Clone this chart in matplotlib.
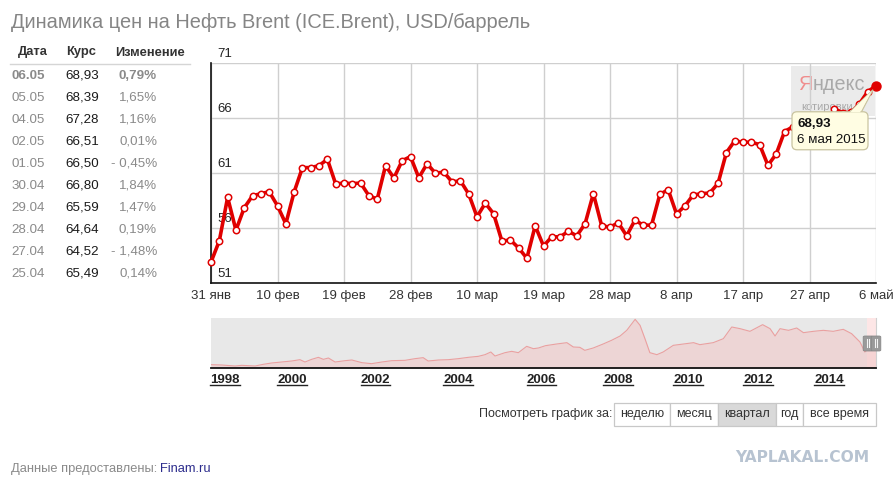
import numpy as np
import matplotlib
matplotlib.use("Agg")
import matplotlib.pyplot as plt
from matplotlib.patches import Rectangle, FancyBboxPatch, Polygon
from matplotlib.lines import Line2D
from matplotlib.transforms import IdentityTransform

plt.rcParams["font.family"] = ["Liberation Sans", "DejaVu Sans"]

# daily Brent quotes, 31 Jan - 6 May 2015
prices = [52.90, 54.83, 58.78, 55.80, 57.84, 58.93, 59.12, 59.30, 58.02, 56.38,
          59.27, 61.49, 61.49, 61.67, 62.25, 60.00, 60.09, 60.03, 60.09, 58.93,
          58.63, 61.67, 60.54, 62.12, 62.49, 60.57, 61.85, 60.97, 61.09, 60.18,
          60.30, 59.09, 57.02, 58.26, 57.29, 54.80, 54.92, 54.19, 53.25, 56.20,
          54.37, 55.20, 55.20, 55.70, 55.29, 56.38, 59.12, 56.20, 56.08, 56.47,
          55.29, 56.71, 56.26, 56.26, 59.06, 59.48, 57.29, 57.99, 59.00, 59.12,
          59.18, 60.06, 62.85, 63.92, 63.80, 63.80, 63.58, 61.70, 62.73, 64.77,
          65.20, 65.49, 64.52, 64.64, 65.59, 66.80, 66.50, 66.51, 67.28, 68.39,
          68.93]
date_labels = ["31 янв", "10 фев", "19 фев", "28 фев", "10 мар", "19 мар",
               "28 мар", "8 апр", "17 апр", "27 апр", "6 май"]
label_step = 8
y_ticks = [51, 56, 61, 66, 71]
last_date = "6 мая 2015"

table_dates = ["06.05", "05.05", "04.05", "02.05", "01.05", "30.04", "29.04", "28.04", "27.04", "25.04"]
table_rates = ["68,93", "68,39", "67,28", "66,51", "66,50", "66,80", "65,59", "64,64", "64,52", "65,49"]
table_changes = ["0,79%", "1,65%", "1,16%", "0,01%", "- 0,45%", "1,84%", "1,47%", "0,19%", "- 1,48%", "0,14%"]

# long history for the navigator strip
nav_years = [1997.58, 1997.90, 1998.30, 1998.50, 1998.90, 1999.14, 1999.39, 1999.69, 1999.99,
             2000.19, 2000.31, 2000.47, 2000.63, 2000.75, 2000.87, 2001.03, 2001.27, 2001.43,
             2001.67, 2001.90, 2002.15, 2002.39, 2002.71, 2002.95, 2003.15, 2003.27, 2003.52,
             2003.76, 2004.00, 2004.24, 2004.48, 2004.64, 2004.78, 2004.88, 2005.12, 2005.28,
             2005.44, 2005.64, 2005.80, 2005.92, 2006.10, 2006.39, 2006.66, 2006.83, 2007.00,
             2007.13, 2007.35, 2007.61, 2007.83, 2008.06, 2008.25, 2008.49, 2008.63, 2008.77,
             2008.91, 2009.11, 2009.29, 2009.58, 2009.87, 2010.16, 2010.34, 2010.72, 2011.01,
             2011.25, 2011.49, 2011.77, 2012.13, 2012.34, 2012.48, 2012.62, 2012.86, 2013.09,
             2013.28, 2013.56, 2013.84, 2014.12, 2014.41, 2014.65, 2014.89, 2015.03, 2015.12,
             2015.35]
nav_prices = [10, 9, 6, 8, 6, 11, 15, 18, 21,
              25, 18, 26, 32, 26, 30, 18, 22, 24,
              16, 13, 18, 22, 23, 28, 31, 21, 24,
              25, 28, 32, 35, 40, 48, 36, 46, 50,
              46, 65, 58, 60, 67, 72, 76, 63, 62,
              53, 60, 72, 83, 96, 113, 146, 128, 88,
              46, 40, 48, 68, 72, 76, 70, 76, 88,
              123, 118, 110, 130, 118, 96, 118, 113, 120,
              106, 110, 113, 110, 116, 103, 78, 48, 56,
              66]
nav_label_years = [1998, 2000, 2002, 2004, 2006, 2008, 2010, 2012, 2014]
selection = (2015.08, 2015.35)

periods = ["неделю", "месяц", "квартал", "год", "все время"]
active_period = "квартал"

W, H = 896, 487
fig = plt.figure(figsize=(W / 100, H / 100), dpi=100)


def fx(px):
    return px / W


def fy(py):
    return 1 - py / H


# title
fig.text(fx(11), fy(22), "Динамика цен на Нефть Brent (ICE.Brent), USD/баррель",
         fontsize=14.45, color="#858585", va="center", ha="left")

# quotes table
for txt, x in zip(["Дата", "Курс", "Изменение"], [18, 66, 115]):
    fig.text(fx(x), fy(52.5), txt, fontsize=9.3, fontweight="bold", color="#333333", va="center")
fig.add_artist(Line2D([fx(10), fx(190)], [fy(63.5), fy(63.5)], color="#d5d5d5", lw=1))
for i in range(len(table_dates)):
    yy = fy(75.7 + i * 22.03)
    w = "bold" if i == 0 else "normal"
    fig.text(fx(11.5), yy, table_dates[i], fontsize=9.6, color="#8a8a8a", fontweight=w, va="center")
    fig.text(fx(65.5), yy, table_rates[i], fontsize=9.6, color="#1a1a1a", va="center")
    fig.text(fx(157), yy, table_changes[i], fontsize=9.6, color="#8a8a8a", fontweight=w,
             va="center", ha="right")

# main chart
ax = fig.add_axes([fx(211), fy(283), fx(876) - fx(211), (283 - 63) / H])
x = np.arange(len(prices))
tick_idx = np.arange(0, len(prices), label_step)
ax.set_xlim(0, len(prices) - 1)
ax.set_ylim(y_ticks[0], y_ticks[-1])
ax.set_xticks(tick_idx)
ax.set_xticklabels(date_labels, fontsize=9.5, color="#333333")
ax.set_yticks(y_ticks)
ax.set_yticklabels([])
ax.tick_params(length=0, pad=5)
ax.grid(True, color="#cfcfcf", lw=1)
ax.set_axisbelow(True)
for s in ["top", "right"]:
    ax.spines[s].set_visible(False)
ax.spines["left"].set_color("#111111")
ax.spines["bottom"].set_color("#111111")
ax.spines["left"].set_linewidth(1.2)
ax.spines["bottom"].set_linewidth(1.2)

for v in y_ticks:
    ax.annotate(str(v), xy=(0, v), xycoords=("axes fraction", "data"), xytext=(6, 3),
                textcoords="offset pixels", fontsize=9.5, color="#222222", va="bottom",
                annotation_clip=False)

# yandex watermark
fig.add_artist(Rectangle((fx(791), fy(116)), fx(875) - fx(791), (116 - 66) / H,
                         facecolor="#e9e9e9", edgecolor="none", zorder=1.5, alpha=0.9))
ya = fig.text(fx(798), fy(85), "Я", fontsize=14.2, color="#f08c8c", va="center", zorder=1.6)
fig.add_artist(plt.Annotation("ндекс", xy=(1, 0.5), xycoords=ya, va="center", ha="left",
                              fontsize=14.2, color="#a9a9a9", zorder=1.6))
fig.text(fx(801), fy(107), "котировки", fontsize=8, color="#a8a8a8", va="center", zorder=1.6)
ax.set_zorder(2)
ax.patch.set_alpha(0)

ax.plot(x, prices, color="#e00000", lw=2.6, marker="o", ms=4.6, mfc="white",
        mec="#e00000", mew=1.1, clip_on=False, zorder=3)
ax.plot(x[-1], prices[-1], "o", color="#e00000", ms=6.5, clip_on=False, zorder=4)

# tooltip for the last point (box and tail placed relative to the point on screen)
fig.canvas.draw()
px, py = ax.transData.transform((x[-1], prices[-1]))
tip_fc, tip_ec = "#fffde3", "#c9c4a0"
ax.add_artist(Polygon([(px - 27, py - 27), (px - 15, py - 27), (px - 3, py - 4)], closed=True,
                      fc=tip_fc, ec=tip_ec, lw=0.9, transform=IdentityTransform(),
                      zorder=5, clip_on=False))
ax.add_artist(FancyBboxPatch((px - 84, py - 64), 76, 38, boxstyle="round,pad=0,rounding_size=5",
                             fc=tip_fc, ec=tip_ec, lw=0.9, transform=IdentityTransform(),
                             zorder=5.5, clip_on=False))
ax.add_artist(Polygon([(px - 26, py - 26.5), (px - 16, py - 26.5), (px - 4, py - 5)], closed=True,
                      fc=tip_fc, ec="none", transform=IdentityTransform(), zorder=5.6,
                      clip_on=False))
tip_kw = dict(xy=(x[-1], prices[-1]), textcoords="offset pixels", fontsize=9.6,
              annotation_clip=False, zorder=6, va="top", color="#111111")
ax.annotate(f"{prices[-1]:.2f}".replace(".", ","), xytext=(-79, -32), fontweight="bold", **tip_kw)
ax.annotate(last_date, xytext=(-79, -48), **tip_kw)

# navigator strip
knot_years = [1997.58, 1998, 2000, 2002, 2004, 2006, 2008, 2010, 2012, 2014, 2015.35]
knot_pos = [0, 14, 81, 164.7, 247.3, 330.7, 407, 477, 547, 618, 665]

nav = fig.add_axes([fx(211), fy(368), fx(876) - fx(211), 50 / H])
nav.set_xscale("function", functions=(lambda t: np.interp(t, knot_years, knot_pos),
                                      lambda p: np.interp(p, knot_pos, knot_years)))
nav.set_xlim(knot_years[0], knot_years[-1])
nav.set_ylim(0, 150)
nav.set_facecolor("#e8e8e8")
nav.axvspan(selection[0], selection[1], color="#fde6e6", lw=0)
nav.fill_between(nav_years, nav_prices, 0, color="#f2c6c6", alpha=0.55, lw=0)
nav.plot(nav_years, nav_prices, color="#eaa0a0", lw=0.8)
nav.set_xticks(nav_label_years)
nav.set_xticklabels([str(yr) for yr in nav_label_years], fontsize=9.5, fontweight="bold",
                    color="#222222")
nav.set_yticks([])
nav.tick_params(length=0, pad=4)
for s in ["top", "left"]:
    nav.spines[s].set_visible(False)
nav.spines["right"].set_color("#d0d0d0")
nav.spines["bottom"].set_color("#111111")
nav.spines["bottom"].set_linewidth(1.3)

# selection handles
for hx in [868, 876]:
    fig.add_artist(FancyBboxPatch((fx(hx - 3), fy(350)), fx(6), 13 / H,
                                  boxstyle="round,pad=0.002", fc="#9a9a9a", ec="#888888", lw=0.6))
    for dx in [-1.2, 1.2]:
        fig.add_artist(Line2D([fx(hx + dx), fx(hx + dx)], [fy(347), fy(339)], color="#f4f4f4", lw=0.8))

# period buttons
fig.text(fx(612), fy(414.5), "Посмотреть график за:", fontsize=9.0, color="#333333",
         ha="right", va="center")
btn_edges = [614, 669.5, 717.5, 776, 802.5, 876]
for i, name in enumerate(periods):
    x0, x1 = btn_edges[i], btn_edges[i + 1]
    fc = "#d9d9d9" if name == active_period else "white"
    fig.add_artist(Rectangle((fx(x0), fy(425.5)), fx(x1 - x0), 22.5 / H, fc=fc, ec="#c8c8c8", lw=0.9))
    fig.text(fx((x0 + x1) / 2), fy(414.5), name, fontsize=9.0, color="#333333", ha="center", va="center")

# footer
fig.text(fx(11), fy(469), "Данные предоставлены: ", fontsize=9.3, color="#8a8a8a", va="center")
fig.text(fx(160), fy(469), "Finam.ru", fontsize=9.3, color="#2c2c8c", va="center")
fig.text(fx(869), fy(457), "YAPLAKAL.COM", fontsize=11.2, fontweight="bold", color="#b7c3d1",
         family="DejaVu Sans", ha="right", va="center")

# underline the navigator year labels
fig.canvas.draw()
for lab in nav.get_xticklabels():
    bb = lab.get_window_extent()
    fig.add_artist(Line2D([bb.x0 / W, bb.x1 / W], [(bb.y0 + 1) / H, (bb.y0 + 1) / H],
                          color="#222222", lw=1))

fig.savefig("out.png", dpi=100)
